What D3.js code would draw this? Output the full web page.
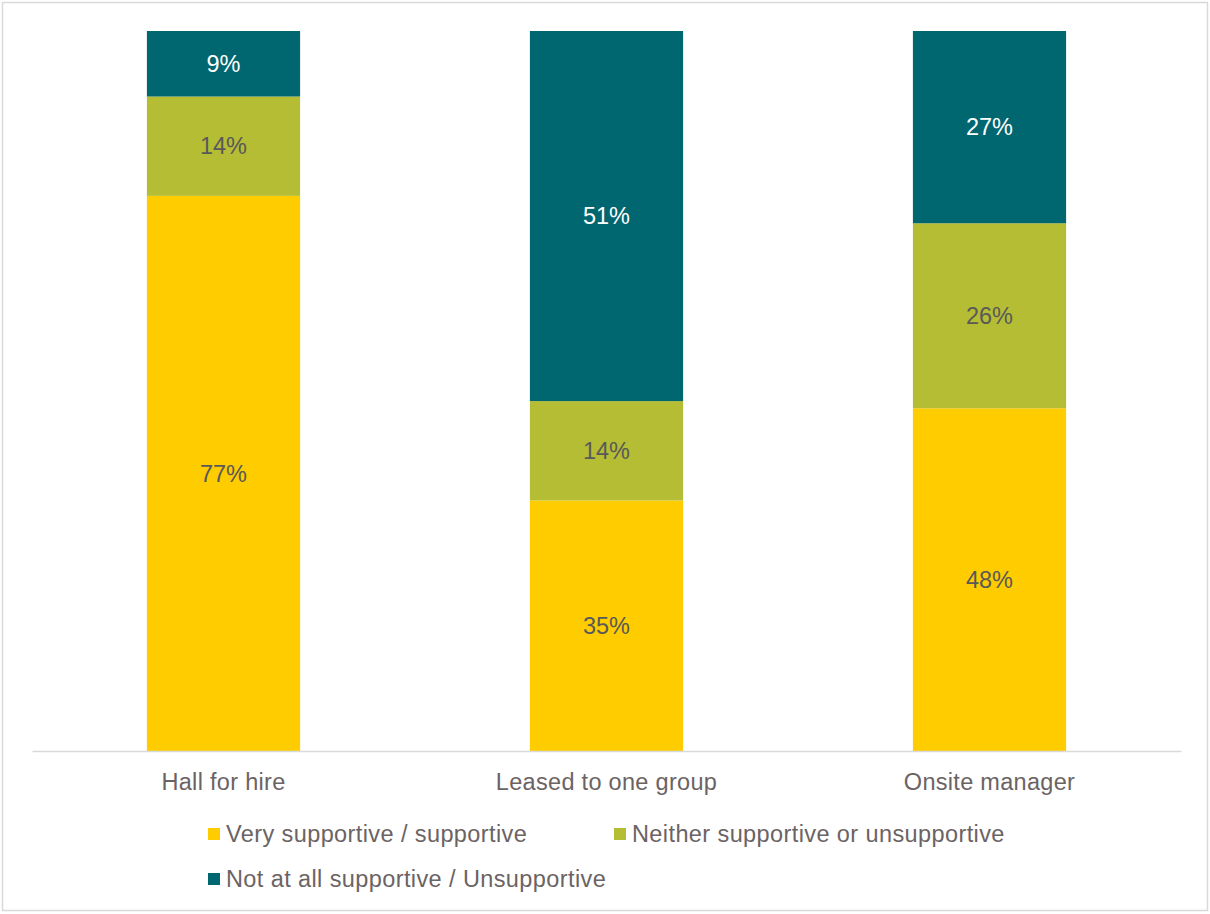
<!DOCTYPE html>
<html>
<head>
<meta charset="utf-8">
<script src="https://cdn.jsdelivr.net/npm/d3@7"></script>
<style>
  body { margin: 0; background: #fff; }
  text { font-family: "Liberation Sans", Arial, sans-serif; }
</style>
</head>
<body>
<svg width="1210" height="914"></svg>
<script>
// categories and series (percent)
var categories = ['Hall for hire', 'Leased to one group', 'Onsite manager'];
var supportive = [77.1, 34.8, 47.6];
var neither = [13.8, 13.8, 25.7];
var unsupportive = [9.1, 51.4, 26.7];
var labelSupportive = ['77%', '35%', '48%'];
var labelNeither = ['14%', '14%', '26%'];
var labelUnsupportive = ['9%', '51%', '27%'];
var seriesNames = ['Very supportive / supportive', 'Neither supportive or unsupportive', 'Not at all supportive / Unsupportive'];

var svg = d3.select('svg');
var textColor = '#6b6363';
var colors = ['#ffcc00', '#b5bd35', '#006670'];
var fontSize = 23.5;

// outer frame
svg.append('rect')
    .attr('x', 2.5).attr('y', 2.5)
    .attr('width', 1205).attr('height', 908)
    .attr('fill', '#fff')
    .attr('stroke', '#d9d9d9')
    .attr('stroke-width', 1.5);

var plot = {l: 32, r: 1181, t: 31, b: 751};

var x = d3.scaleBand()
    .domain(categories)
    .range([plot.l, plot.r])
    .paddingInner(0.6)
    .paddingOuter(0.3);

var y = d3.scaleLinear()
    .domain([0, 100])
    .range([plot.b, plot.t]);

var rows = categories.map(function(c, i) {
    return {cat: c, s0: supportive[i], s1: neither[i], s2: unsupportive[i],
            l0: labelSupportive[i], l1: labelNeither[i], l2: labelUnsupportive[i]};
});

var stack = d3.stack().keys(['s0', 's1', 's2']);
var layers = stack(rows);

var g = svg.selectAll('.layer')
    .data(layers)
    .enter()
    .append('g')
    .attr('class', 'layer')
    .attr('fill', function(d, i) { return colors[i]; });

g.selectAll('rect')
    .data(function(d) { return d; })
    .enter()
    .append('rect')
    .attr('x', function(d) { return x(d.data.cat); })
    .attr('y', function(d) { return y(d[1]); })
    .attr('width', x.bandwidth())
    .attr('height', function(d) { return y(d[0]) - y(d[1]); });

// value labels
layers.forEach(function(layer, li) {
    svg.append('g').selectAll('text')
        .data(layer)
        .enter()
        .append('text')
        .attr('x', function(d) { return x(d.data.cat) + x.bandwidth() / 2; })
        .attr('y', function(d) { return (y(d[0]) + y(d[1])) / 2; })
        .attr('dy', '0.35em')
        .attr('text-anchor', 'middle')
        .attr('font-size', fontSize)
        .attr('fill', li == 2 ? '#ffffff' : '#595959')
        .text(function(d) { return d.data['l' + li]; });
});

// x axis
var xAxis = d3.axisBottom(x).tickSize(0).tickPadding(22);
var ax = svg.append('g')
    .attr('transform', 'translate(0,' + plot.b + ')')
    .call(xAxis);
ax.select('.domain').attr('stroke', '#d9d9d9').attr('stroke-width', 1.5);
ax.selectAll('text')
    .attr('font-size', fontSize)
    .attr('fill', textColor)
    .attr('letter-spacing', 0.3)
    .style('font-family', '"Liberation Sans", Arial, sans-serif');

// legend
var legendPos = [[208, 834], [614, 834], [208, 879]];
var leg = svg.selectAll('.legend')
    .data(seriesNames)
    .enter()
    .append('g')
    .attr('class', 'legend')
    .attr('transform', function(d, i) { return 'translate(' + legendPos[i] + ')'; });

leg.append('rect')
    .attr('x', 0).attr('y', -6)
    .attr('width', 12).attr('height', 12)
    .attr('fill', function(d, i) { return colors[i]; });

leg.append('text')
    .attr('x', 18)
    .attr('dy', '0.35em')
    .attr('font-size', fontSize)
    .attr('letter-spacing', 0.4)
    .attr('fill', textColor)
    .text(function(d) { return d; });
</script>
</body>
</html>
